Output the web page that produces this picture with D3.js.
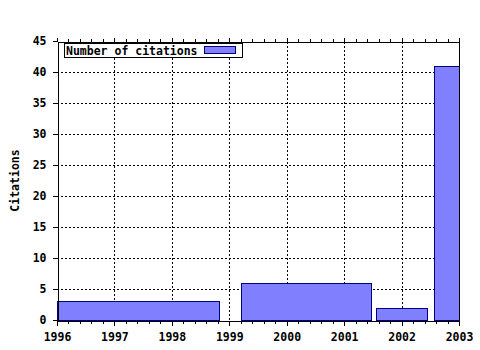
<!DOCTYPE html>
<html>
<head>
<meta charset="utf-8">
<script src="https://cdn.jsdelivr.net/npm/d3@7"></script>
<style>
  body { margin: 0; background: #fff; }
  text { font-family: "DejaVu Sans Mono", monospace; font-weight: bold; fill: #000; }
</style>
</head>
<body>
<div id="chart"></div>
<script>
const width = 480;
const height = 350;
const margins = {top: 41, right: 21, bottom: 30, left: 57};
const fontSize = "11.5px";

// histogram bins (year ranges) and their counts
const binStart = [1996, 1999.2, 2001.56, 2002.56];
const binEnd = [1998.82, 2001.46, 2002.45, 2003];
const citations = [3, 6, 2, 41];
const yearTicks = [1996, 1997, 1998, 1999, 2000, 2001, 2002, 2003];
const citeTicks = [0, 5, 10, 15, 20, 25, 30, 35, 40, 45];
const seriesName = "Number of citations";

const bins = binStart.map((s, i) => ({start: s, end: binEnd[i], value: citations[i]}));

const svg = d3.select("#chart")
    .append("svg")
    .attr("width", width)
    .attr("height", height)
    .style("display", "block");

const xScale = d3.scaleLinear()
    .domain([1996, 2003])
    .range([margins.left, width - margins.right]);

const yScale = d3.scaleLinear()
    .domain([0, 45])
    .range([height - margins.bottom, margins.top]);

const px = v => Math.round(v) + 0.5;

// grid
const grid = svg.append("g")
    .attr("stroke", "#000")
    .attr("stroke-width", 1)
    .attr("stroke-dasharray", "2,2")
    .attr("shape-rendering", "crispEdges");

grid.selectAll("line.vg")
    .data(yearTicks.slice(1, -1))
    .join("line")
    .attr("class", "vg")
    .attr("x1", d => px(xScale(d)))
    .attr("x2", d => px(xScale(d)))
    .attr("y1", yScale(0))
    .attr("y2", yScale(45));

grid.selectAll("line.hg")
    .data(citeTicks.slice(1, -1))
    .join("line")
    .attr("class", "hg")
    .attr("x1", xScale(1996))
    .attr("x2", xScale(2003))
    .attr("y1", d => px(yScale(d)))
    .attr("y2", d => px(yScale(d)));

// bars
svg.append("g")
    .attr("shape-rendering", "crispEdges")
    .selectAll("rect")
    .data(bins)
    .join("rect")
    .attr("x", d => px(xScale(d.start)))
    .attr("y", d => px(yScale(d.value)))
    .attr("width", d => Math.round(xScale(d.end)) - Math.round(xScale(d.start)))
    .attr("height", d => Math.round(yScale(0)) - Math.round(yScale(d.value)))
    .attr("fill", "#8080ff")
    .attr("stroke", "#000080")
    .attr("stroke-width", 1);

// axes
const minorTicks = d3.range(1996, 2003.001, 0.2).filter(v => Math.abs(v - Math.round(v)) > 0.01);

const xBottom = d3.axisBottom(xScale)
    .tickValues(yearTicks)
    .tickFormat(d3.format("d"))
    .tickSize(5)
    .tickPadding(7);

const gx = svg.append("g")
    .attr("transform", "translate(0," + px(yScale(0)) + ")")
    .attr("shape-rendering", "crispEdges")
    .call(xBottom);
gx.select(".domain").attr("stroke", "#000");
gx.selectAll("text").attr("font-size", fontSize).attr("font-family", "DejaVu Sans Mono").attr("font-weight", "bold");

gx.selectAll("line.minor")
    .data(minorTicks)
    .join("line")
    .attr("class", "minor")
    .attr("x1", d => px(xScale(d)))
    .attr("x2", d => px(xScale(d)))
    .attr("y1", 0)
    .attr("y2", 3)
    .attr("stroke", "#000");

const gxTop = svg.append("g")
    .attr("transform", "translate(0," + px(yScale(45)) + ")")
    .attr("shape-rendering", "crispEdges")
    .call(d3.axisTop(xScale).tickValues(yearTicks).tickFormat("").tickSize(4).tickSizeOuter(0));
gxTop.select(".domain").attr("stroke", "#000");
gxTop.selectAll("line.minor")
    .data(minorTicks)
    .join("line")
    .attr("class", "minor")
    .attr("x1", d => px(xScale(d)))
    .attr("x2", d => px(xScale(d)))
    .attr("y1", 0)
    .attr("y2", -3)
    .attr("stroke", "#000");

const gy = svg.append("g")
    .attr("transform", "translate(" + px(xScale(1996)) + ",0)")
    .attr("shape-rendering", "crispEdges")
    .call(d3.axisLeft(yScale).tickValues(citeTicks).tickSize(5).tickSizeOuter(0).tickPadding(6));
gy.select(".domain").attr("stroke", "#000");
gy.selectAll("text").attr("font-size", fontSize).attr("font-family", "DejaVu Sans Mono").attr("font-weight", "bold");

svg.append("line")
    .attr("x1", px(xScale(2003)))
    .attr("x2", px(xScale(2003)))
    .attr("y1", yScale(45))
    .attr("y2", yScale(0))
    .attr("stroke", "#000")
    .attr("shape-rendering", "crispEdges");

// y label
svg.append("text")
    .attr("transform", "translate(19," + ((yScale(0) + yScale(45)) / 2) + ") rotate(-90)")
    .attr("text-anchor", "middle")
    .attr("font-size", fontSize)
    .text("Citations");

// legend
const legend = svg.append("g").attr("shape-rendering", "crispEdges");
legend.append("rect")
    .attr("x", 64.5)
    .attr("y", 43.5)
    .attr("width", 178)
    .attr("height", 14)
    .attr("fill", "#fff")
    .attr("stroke", "#000");
legend.append("text")
    .attr("x", 66)
    .attr("y", 55)
    .attr("font-size", fontSize)
    .text(seriesName);
legend.append("rect")
    .attr("x", 204.5)
    .attr("y", 46.5)
    .attr("width", 31)
    .attr("height", 7)
    .attr("fill", "#8080ff")
    .attr("stroke", "#000080");
</script>
</body>
</html>
